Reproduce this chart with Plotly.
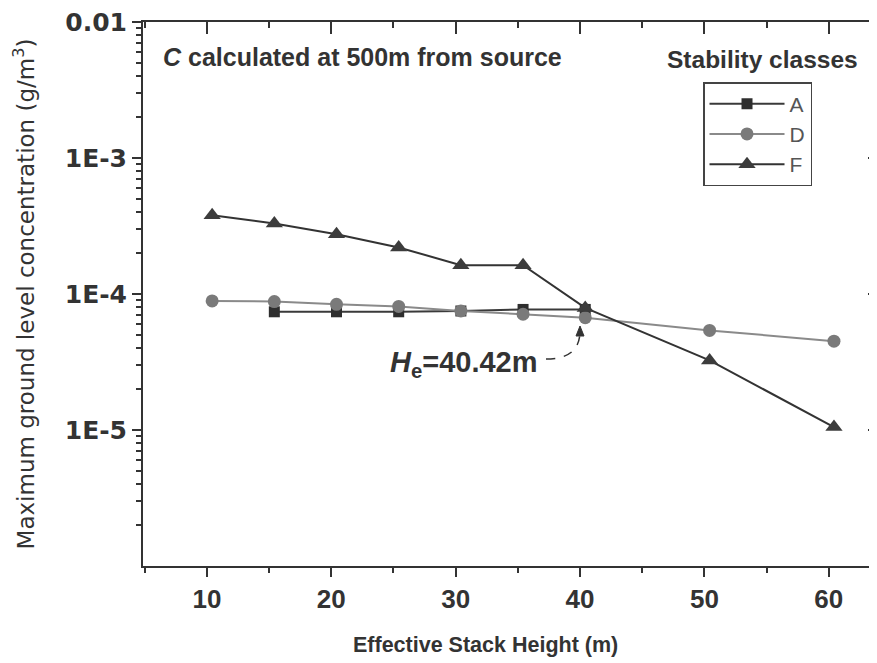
import plotly.graph_objects as go

# ---- data ----
stack_height = [10.42, 15.42, 20.42, 25.42, 30.42, 35.42, 40.42, 50.42, 60.42]
class_A_x = [15.42, 20.42, 25.42, 30.42, 35.42, 40.42]
class_A = [7.4e-5, 7.4e-5, 7.4e-5, 7.5e-5, 7.7e-5, 7.7e-5]
class_D = [8.9e-5, 8.8e-5, 8.4e-5, 8.1e-5, 7.5e-5, 7.1e-5, 6.7e-5, 5.4e-5, 4.5e-5]
class_F = [3.8e-4, 3.3e-4, 2.75e-4, 2.2e-4, 1.63e-4, 1.63e-4, 7.9e-5, 3.25e-5, 1.05e-5]

x_ticks = [10, 20, 30, 40, 50, 60]
x_minor = [5, 15, 25, 35, 45, 55]
y_ticks = [1e-5, 1e-4, 1e-3, 1e-2]
y_ticktext = ["1E-5", "1E-4", "1E-3", "0.01"]
y_minor = [m * 10.0 ** e for e in range(-6, -2) for m in range(2, 10)]

X_RANGE = [4.86, 63.8]
Y_RANGE = [-6, -2]

SANS = "Liberation Sans, Arial"
AXC = "#333333"

fig = go.Figure()
fig.add_trace(go.Scatter(x=class_A_x, y=class_A, name="A", mode="lines+markers",
                         line=dict(color="#3a3a3a", width=2),
                         marker=dict(symbol="square", size=11, color="#2e2e2e")))
fig.add_trace(go.Scatter(x=stack_height, y=class_D, name="D", mode="lines+markers",
                         line=dict(color="#8a8a8a", width=2),
                         marker=dict(symbol="circle", size=13, color="#7a7a7a")))
fig.add_trace(go.Scatter(x=stack_height, y=class_F, name="F", mode="lines+markers",
                         line=dict(color="#333333", width=2),
                         marker=dict(symbol="triangle-up", size=15, color="#3c3c3c")))
# invisible helpers so the mirrored tick axes are drawn
fig.add_trace(go.Scatter(x=stack_height, y=class_D, xaxis="x2", yaxis="y", mode="markers",
                         marker=dict(opacity=0), showlegend=False, hoverinfo="skip"))
fig.add_trace(go.Scatter(x=stack_height, y=class_D, xaxis="x", yaxis="y2", mode="markers",
                         marker=dict(opacity=0), showlegend=False, hoverinfo="skip"))

# the page body adds an 8px offset, so the figure is 8px smaller than the window
fig.update_layout(
    width=869, height=655,
    margin=dict(l=135, r=1, t=14, b=97, autoexpand=False),
    paper_bgcolor="white", plot_bgcolor="white",
    font=dict(family=SANS, color=AXC),
    xaxis=dict(range=X_RANGE, tickvals=x_ticks, ticks="outside", ticklen=9, tickwidth=2,
               tickcolor=AXC, showline=True, linewidth=2, linecolor=AXC, mirror=True,
               showgrid=False, zeroline=False, automargin=False,
               tickfont=dict(family=SANS, size=26, color=AXC, weight="bold"),
               minor=dict(tickvals=x_minor, ticks="outside", ticklen=5, tickwidth=2, tickcolor=AXC,
                          showgrid=False)),
    xaxis2=dict(range=X_RANGE, overlaying="x", side="top", anchor="y", matches="x",
                tickvals=x_ticks, ticks="inside", ticklen=12, tickwidth=2, tickcolor=AXC,
                showticklabels=False, showline=False, showgrid=False, zeroline=False,
                automargin=False,
                minor=dict(tickvals=x_minor, ticks="inside", ticklen=6, tickwidth=2, tickcolor=AXC,
                           showgrid=False)),
    yaxis=dict(type="log", range=Y_RANGE, tickvals=y_ticks, ticktext=y_ticktext,
               ticks="outside", ticklen=9, tickwidth=2, tickcolor=AXC,
               showline=True, linewidth=2, linecolor=AXC, showgrid=False, zeroline=False,
               automargin=False, ticklabeloverflow="allow",
               tickfont=dict(family="DejaVu Sans", size=25, color=AXC, weight="bold"),
               minor=dict(tickvals=y_minor, ticks="outside", ticklen=5, tickwidth=1.5, tickcolor=AXC,
                          showgrid=False),
               title=dict(text="Maximum ground level concentration (g/m<sup>3</sup>)", standoff=24,
                          font=dict(family="DejaVu Sans", size=23, color=AXC))),
    yaxis2=dict(type="log", range=Y_RANGE, overlaying="y", side="right", anchor="x", matches="y",
                tickvals=[1e-5, 1e-4, 1e-3], ticks="inside", ticklen=8, tickwidth=2,
                tickcolor=AXC, showticklabels=False, showline=False, showgrid=False, zeroline=False,
                automargin=False),
    legend=dict(x=0.764, y=0.8897, xanchor="left", yanchor="top",
                bordercolor="#444444", borderwidth=1.5, bgcolor="white",
                font=dict(family=SANS, size=21, color="#555555"),
                itemwidth=75, tracegroupgap=0),
    showlegend=True,
)

# dashed right frame line
fig.add_shape(type="line", xref="paper", yref="paper", x0=1, x1=1, y0=0, y1=1,
              line=dict(color="#9a9a9a", width=1.5, dash="dot"))


def px(X):
    return (X - 143) / 733.0


def py(Y):
    return (566 - Y) / 544.0


# x-axis title (sits a little left of the plot centre in the reference)
fig.add_annotation(xref="paper", yref="paper", x=px(485), y=py(645), xanchor="center", yanchor="middle",
                   text="<b>Effective Stack Height (m)</b>", showarrow=False,
                   font=dict(family=SANS, size=21.5, color=AXC))

fig.add_annotation(xref="paper", yref="paper", x=px(161), y=py(57), xanchor="left", yanchor="middle",
                   text="<b><i>C</i> calculated at 500m from source</b>", showarrow=False,
                   font=dict(family=SANS, size=25, color=AXC))
fig.add_annotation(xref="paper", yref="paper", x=px(860), y=py(60), xanchor="right", yanchor="middle",
                   text="<b>Stability classes</b>", showarrow=False,
                   font=dict(family=SANS, size=24.5, color=AXC))

# H_e callout with curved arrow
fig.add_annotation(xref="paper", yref="paper", x=px(464), y=py(364), xanchor="center", yanchor="middle",
                   text="<b><i>H</i><sub>e</sub>=40.42m</b>", showarrow=False,
                   font=dict(family=SANS, size=29, color=AXC))
path = (f"M {px(546)},{py(359)} C {px(566)},{py(359)} {px(579)},{py(352)} {px(580)},{py(333)}")
fig.add_shape(type="path", xref="paper", yref="paper", path=path,
              line=dict(color=AXC, width=1.5, dash="dash"))
head = (f"M {px(576)},{py(336)} L {px(584)},{py(336)} L {px(580)},{py(326)} Z")
fig.add_shape(type="path", xref="paper", yref="paper", path=head,
              line=dict(color=AXC, width=1), fillcolor=AXC)

fig.write_html("out.html")
